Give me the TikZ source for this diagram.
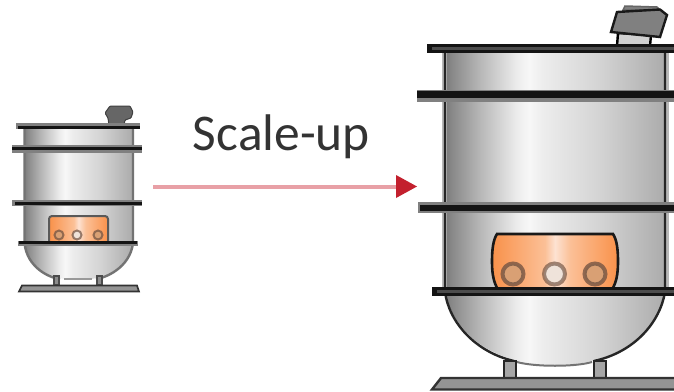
\documentclass[tikz,border=0pt]{standalone}
\usepackage{fontspec}
\setmainfont{Carlito}
\definecolor{orange1}{HTML}{F9914A}
\definecolor{orange2}{HTML}{FBC097}
\definecolor{orange3}{HTML}{FDE2D2}
\definecolor{ringbrown}{HTML}{6E5040}
\definecolor{ringside}{HTML}{D9A074}
\definecolor{ringmid}{HTML}{EFE3DA}
\definecolor{arrowpink}{HTML}{E8A0A6}
\definecolor{arrowred}{HTML}{C3202E}
\pgfdeclarehorizontalshading{steel}{100bp}{color(0bp)=(black!52);color(25bp)=(black!52);color(27bp)=(black!45);color(33bp)=(black!28);color(41bp)=(black!8);color(44bp)=(black!3);color(47bp)=(black!7);color(60bp)=(black!17);color(75bp)=(black!33);color(100bp)=(black!33)}
\pgfdeclarehorizontalshading{glow}{100bp}{color(0bp)=(orange1);color(25bp)=(orange1);color(46bp)=(orange2);color(50bp)=(orange3);color(56bp)=(orange2);color(75bp)=(orange1);color(100bp)=(orange1)}
\tikzset{
  vessel/.style={shading=steel},
  wall/.style={draw=black!85,line width=#1},
  wallhalo/.style={draw=black!28,line width=#1},
  bandhalo/.style={draw=black!50,line width=#1},
  bandcore/.style={draw=black!92,line width=#1},
  base/.style={fill=black!42,draw=black!80,line width=#1},
  window/.style={shading=glow},
  ringout/.style={draw=ringbrown,line width=#1},
}
\begin{document}
\begin{tikzpicture}[x=1pt,y=-1pt]
\useasboundingbox[fill=white] (0,0) rectangle (674,391);
% ---- small vessel
\path[vessel] (24,126) -- (133,126) -- (133,243) .. controls (130,268) and (105,280) .. (78,280) .. controls (50,280) and (27,268) .. (24,243) -- cycle;
\draw[wall=2.4pt,draw=black!55] (24.5,126) -- (24.5,243) .. controls (27,268) and (50,278) .. (60,279);
\draw[wall=2.4pt,draw=black!55] (133,126) -- (133,243) .. controls (130,268) and (105,278) .. (96,279);
\draw[black!40,line width=1.5pt] (64,279) -- (92,279);
\draw[black!70,fill=black!45,line width=2pt] (54,276) rectangle (59,285);
\draw[black!70,fill=black!45,line width=2pt] (97,276) rectangle (102,285);
\draw[base=1.6pt] (22,285.5) -- (137,285.5) -- (139,291.5) -- (19,291.5) -- cycle;
\draw[black!75,fill=black!60,line width=1pt,rounded corners=1pt] (105,113) -- (110,106) -- (130,106) -- (133,112) -- (131,118) -- (125,120) -- (124,125) -- (109,125) -- (108,118) -- cycle;
\draw[bandhalo=6pt] (16,126) -- (140,126);
\draw[bandcore=2.5pt] (18,127.5) -- (140,127.5);
\draw[bandhalo=8pt] (12,149) -- (142,149);
\draw[bandcore=3pt] (12,148.5) -- (142,148.5);
\draw[bandhalo=6pt] (12,202.5) -- (142,202.5);
\draw[bandcore=3pt] (15,203) -- (142,203);
\path[window,rounded corners=3pt] (49,216) rectangle (108,242);
\draw[black!65,line width=2pt,rounded corners=3pt] (49,242) -- (49,216) -- (108,216) -- (108,242);
\draw[ringout=2pt,draw opacity=.7,fill=ringside] (59,235) circle (4.5);
\draw[ringout=2pt,draw opacity=.7,fill=ringmid] (77,235) circle (4.5);
\draw[ringout=2pt,draw opacity=.7,fill=ringside] (98,235) circle (4.5);
\draw[bandhalo=5pt] (18,243) -- (138,243);
\draw[bandcore=3pt] (19,242.5) -- (137,242.5);
% ---- large vessel
\path[vessel] (445,50) -- (666,50) -- (666,292) .. controls (655,340) and (610,365) .. (555,365) .. controls (500,365) and (456,340) .. (445,292) -- cycle;
\draw[wallhalo=5pt] (444,50) -- (444,292);
\draw[wallhalo=5pt] (666,50) -- (666,292);
\draw[wall=2.4pt] (445,50) -- (445,292) .. controls (449,322) and (475,352) .. (514,361);
\draw[wall=2.4pt] (665,50) -- (665,292) .. controls (660,322) and (635,352) .. (594,361);
\draw[black!55,line width=2pt] (517,362) .. controls (535,367) and (575,367) .. (592,362);
\draw[black!85,fill=black!35,line width=2.2pt] (504,361) rectangle (516,378);
\draw[black!85,fill=black!35,line width=2.2pt] (594,361) rectangle (606,378);
\draw[base=2.4pt] (441,378) -- (676,378) -- (676,389.5) -- (432,389.5) -- cycle;
% motor
\draw[black,fill=black!18,line width=2.4pt] (618,33) -- (617,46) -- (650,46) -- (651,35) -- cycle;
\draw[black!60,fill=black!50,line width=1.5pt] (623,10) -- (625,6) -- (657,7) -- (660,10) -- cycle;
\draw[black!90,fill=black!50,line width=2.4pt] (617,12) -- (660,9.5) -- (667,15) -- (660,37) -- (611,32) -- cycle;
% bands
\draw[black!92,line width=9pt] (427,48.5) -- (674,48.5);
\draw[black!70,line width=2.5pt] (432,48.5) -- (674,48.5);
\draw[bandhalo=12pt] (417,96) -- (674,96);
\draw[bandcore=7pt] (417,94) -- (674,94);
\draw[bandhalo=11pt] (418,207.5) -- (674,207.5);
\draw[bandcore=6pt] (420,208) -- (674,208);
% window
\path[window] (497,234) -- (613,234) .. controls (617,240) and (618,250) .. (618,262) .. controls (618,275) and (616,282) .. (613,289) -- (497,289) .. controls (494,282) and (492,275) .. (492,262) .. controls (492,250) and (493,240) .. (497,234) -- cycle;
\draw[black!90,line width=2.6pt] (497,288) .. controls (494,282) and (492,275) .. (492,262) .. controls (492,250) and (493,240) .. (497,234) -- (613,234) .. controls (617,240) and (618,250) .. (618,262) .. controls (618,275) and (616,282) .. (613,288);
\draw[ringout=4pt,draw opacity=.75,fill=ringside] (513,274) circle (10.5);
\draw[ringout=4pt,draw opacity=.65,fill=ringmid] (554.5,274) circle (10.5);
\draw[ringout=4pt,draw opacity=.75,fill=ringside] (595,274) circle (10.5);
\draw[bandcore=9pt] (432,291.5) -- (674,291.5);
\draw[black!70,line width=2.5pt] (437,291.5) -- (674,291.5);
% ---- arrow and label
\coordinate (from) at (153,186.5);
\coordinate (to) at (397,186.5);
\coordinate (tip) at (417,186.5);
\draw[arrowpink,line width=4pt] (from) -- (to);
\fill[arrowred] (396,175) -- (tip) -- (396,198) -- cycle;
\node[inner sep=0pt,anchor=base,font=\fontsize{51.5}{52}\selectfont,text=black!80] (label) at (281.5,150) {Scale-up};
\end{tikzpicture}
\end{document}
